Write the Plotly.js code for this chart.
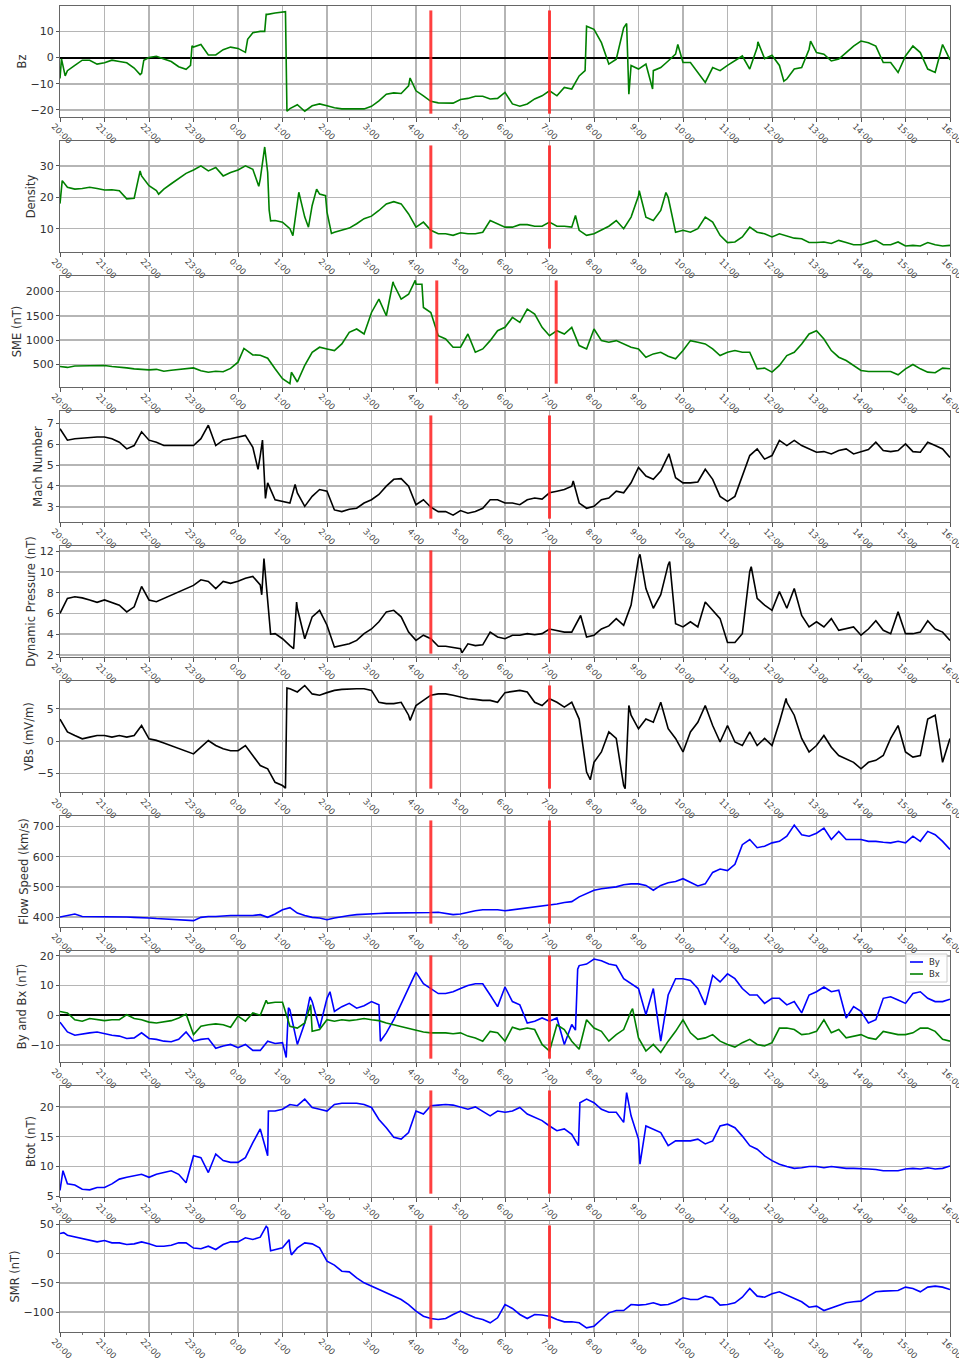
<!DOCTYPE html>
<html><head><meta charset="utf-8">
<script src="https://cdn.plot.ly/plotly-3.0.1.min.js"></script>
<style>html,body{margin:0;padding:0;background:#fff}</style>
</head><body>
<div id="chart" style="width:959px;height:1359px"></div>
<script>
// ---------- DATA (10-minute samples, 20:00 -> 16:00 next day) ----------
const tickLabels = ["20:00","21:00","22:00","23:00","0:00","1:00","2:00","3:00","4:00","5:00","6:00","7:00","8:00","9:00","10:00","11:00","12:00","13:00","14:00","15:00","16:00"];
const startTime = "20:00";
const sampleMinutes = 10;
const eventTimes = ["4:20", "7:00"];
const smeEventTimes = ["4:28", "7:09"];

const bz = [
-8,-5,-3,-1,-1,-2.5,
-2,-1,-1.5,-2,-4,-6,
0,0.5,-0.5,-1.5,-3.5,-4.5,
4,5,1,1,3,4,
3.5,2,9.5,10,16.5,17,
17.5,-19.5,-18,-20.5,-18.4,-17.7,
-18.4,-19.2,-19.6,-19.6,-19.7,-19.6,
-18.6,-16.5,-14,-13.5,-13.7,-10.8,
-12.7,-14.6,-16.7,-17.3,-17.4,-17.4,
-16,-15.6,-14.8,-14.8,-15.8,-15.6,
-13.3,-17.7,-18.6,-17.7,-15.8,-14.6,
-12.7,-14.6,-11.4,-12,-7,12,
10.8,5.7,-2.5,-0.6,11.4,-3,
-4.4,-2.5,-5,-3.8,-1.3,1.3,
-1.9,-1.9,-5.7,-9.5,-3.8,-5,
-3,-1.3,0.6,-4.4,3.8,-0.4,
0.9,-3,-8.2,-4.4,-3.8,3.2,
1.9,1.3,-1.3,-0.6,1.9,4.4,
6.3,5.7,4.4,-1.9,-1.9,-5.7,
0.6,4.4,1.9,-4.4,-5.7,5,
-0.9];
const bzExtra = [["20:02",-0.5],["20:07",-7],["21:48",-6.5],["21:53",-1],["22:56",-3],["22:58",4.5],
["0:13",7],["0:36",10],["0:38",16.5],["1:04",17.5],["1:06",-20.5],["3:52",-7.8],["7:48",-5],["7:50",12],
["8:44",13],["8:47",-14],["9:19",-12],["9:53",5],["11:41",6],["12:16",-9],["12:52",6.3]];

const density = [
18,23.2,22.6,22.8,23.2,22.8,
22.3,22.4,22.1,19.5,19.7,26.8,
23.7,22.1,22.6,24.3,26,27.6,
28.7,30,28.4,29.5,26.8,27.9,
28.7,30,28.9,25.8,27.9,12.6,
12.1,10,17.4,13.7,17.4,21,
15.3,8.9,9.5,10.2,11.6,13.2,
14,15.8,17.9,18.6,17.9,14.7,
10.5,12.1,9.5,8.4,8.4,7.9,
8.7,8.4,8.4,8.9,12.6,11.6,
10.5,10.5,11.3,11.3,10.8,10.8,
12.1,10.8,10.8,10.5,9.5,7.9,
8.4,9.5,10.8,12.6,10,13.7,
20.5,13.7,12.6,15.8,20,8.9,
9.5,8.9,10,13.7,12.1,7.9,
5.6,5.8,7.4,10.5,8.9,8.4,
7.4,8.4,7.7,7,6.8,5.6,
5.6,5.8,5.3,6.3,5.6,4.9,
4.9,5.6,6.3,4.9,4.9,5.8,
4.5,4.7,4.5,5.6,4.9,4.5,
4.7];
const densityExtra = [["20:03",25.3],["21:48",28.4],["22:13",21],["0:28",23.5],["0:36",36],["0:42",16],["0:44",12.5],
["1:14",7.8],["1:22",21.6],["1:35",10.5],["1:46",22.6],["1:58",20.5],["2:06",8.5],["7:35",14.2],["9:01",22.1],["9:37",21.5]];

const sme = [
460,440,470,470,470,470,
480,460,450,430,410,400,
390,400,360,380,400,410,
430,370,340,360,350,420,
548,807,698,690,630,411,
207,105,139,480,752,855,
820,786,923,1161,1230,1127,
1570,1843,1502,2150,1843,1945,
2150,1673,1570,1093,1025,855,
855,1127,752,820,991,1195,
1264,1468,1366,1639,1536,1264,
1093,1195,1127,1264,889,820,
1230,991,957,991,923,855,
820,650,718,752,670,616,
786,991,957,923,820,684,
752,786,752,752,411,425,
343,480,684,752,923,1127,
1195,1025,786,650,582,480,
377,357,357,343,357,289,
411,500,411,343,330,425,
411];
const smeExtra = [["0:08",830],["1:12",340],["3:29",2200],["3:59",2230],["4:08",2150]];

const mach = [
6.75,6.2,6.27,6.3,6.35,6.35,
6.35,6.27,6.1,5.78,5.94,6.6,
6.2,6.1,5.94,5.94,5.94,5.94,
5.94,6.27,6.92,5.94,6.2,6.27,
6.35,6.43,5.86,5.46,4.15,3.34,
3.26,3.18,3.67,3.02,3.5,3.83,
3.75,2.85,2.77,2.88,2.93,3.18,
3.34,3.59,3.99,4.32,4.35,3.99,
3.1,3.34,2.98,2.77,2.77,2.6,
2.82,2.69,2.77,2.93,3.34,3.34,
3.18,3.18,3.1,3.34,3.42,3.37,
3.67,3.75,3.83,3.99,3.18,2.93,
3.02,3.34,3.42,3.75,3.67,4.15,
4.89,4.48,4.32,4.72,5.46,4.4,
4.15,4.15,4.19,4.8,4.32,3.5,
3.26,3.5,4.48,5.46,5.78,5.29,
5.46,6.19,5.94,6.19,5.94,5.78,
5.62,5.65,5.54,5.7,5.78,5.54,
5.65,5.75,6.1,5.7,5.65,5.7,
6.02,5.65,5.62,6.1,5.94,5.78,
5.37];
const machExtra = [["0:27",4.8],["0:33",6.2],["0:37",3.4],["1:17",4.07],["7:32",4.24],["9:41",5.55]];

const dynPressure = [
6,7.45,7.6,7.5,7.3,7.07,
7.3,7.07,6.8,6.15,6.64,8.6,
7.3,7.13,7.45,7.8,8.1,8.43,
8.7,9.24,9.08,8.4,9.08,8.9,
9.1,9.4,9.56,8.75,6.8,4.05,
3.56,2.9,6.5,3.56,5.67,6.3,
4.86,2.75,2.9,3.07,3.4,4.05,
4.5,5.2,6.15,6.3,5.67,4.2,
3.4,3.9,3.56,2.84,2.84,2.75,
2.6,3.07,2.9,2.97,4.2,3.73,
3.56,3.9,3.9,4.05,3.95,4.05,
4.5,4.37,4.2,4.2,5.5,3.73,
3.9,4.5,4.8,5.5,4.86,6.8,
11.35,8.4,6.5,7.8,10.7,5,
4.7,5.2,4.7,7.1,6.3,5.5,
3.2,3.2,4.05,10.05,7.45,6.8,
6.3,8.1,6.5,8.4,5.8,4.7,
5.2,4.7,5.5,4.37,4.5,4.7,
3.9,4.5,5.3,4.37,4.05,6.15,
4.05,4.05,4.2,5.3,4.5,4.2,
3.4];
const dynPressureExtra = [["0:32",7.8],["0:35",11.3],["0:44",4],["1:15",2.6],["1:19",7.1],["5:02",2.2],["7:42",5.8],
["9:02",11.7],["9:42",11],["11:32",10.5]];

const vbs = [
3.4,1.4,0.85,0.34,0.6,0.85,
0.85,0.6,0.85,0.6,0.85,2.4,
0.34,0.1,-0.3,-0.7,-1.1,-1.5,
-2,-0.96,0.08,-0.7,-1.2,-1.5,
-1.5,-0.7,-2.25,-3.8,-4.3,-6.4,
-6.9,8.1,7.6,8.6,7.3,7.1,
7.5,7.85,8,8.1,8.1,8.1,
7.85,6,5.8,5.8,6,4,
5.5,6.3,7.1,7.3,7.3,7.1,
6.8,6.55,6.45,6.3,6.3,6,
7.5,7.7,7.85,7.6,6,5.5,
6.55,6,5.25,6,3.4,-4.8,
-3.3,-1.7,1.4,0.4,-6.9,4,
1.9,3.4,2.9,6,1.9,0.4,
-1.7,1.4,2.9,5.5,2.4,-0.15,
2.4,-0.15,-0.7,1.4,-0.7,0.4,
-0.7,2.9,6,4,0.4,-1.7,
-0.7,0.85,-0.96,-2.25,-2.8,-3.3,
-4.3,-3.3,-3,-2.25,0.4,2.4,
-1.7,-2.5,-2.25,3.4,4,-3.3,
0.4];
const vbsExtra = [["1:04",-7.3],["1:06",8.2],["3:52",3.2],["7:55",-6],["8:42",-7.4],["8:47",5.5],["12:19",6.6]];

const flowSpeed = [
400,405,410,402,402,402,
402,402,402,400,399,399,
397,395,394,391,390,389,
388,399,402,402,404,405,
405,405,405,408,399,410,
424,431,413,405,399,397,
391,397,402,405,408,410,
410,412,413,413,414,413,
413,415,415,416,413,408,
410,416,421,424,424,424,
421,424,427,431,435,438,
440,443,448,451,467,478,
489,494,496,500,507,510,
510,505,489,505,514,518,
527,514,503,510,548,559,
554,575,640,657,630,635,
646,651,668,705,673,668,
678,695,657,684,657,657,
657,651,651,648,646,651,
646,668,651,684,673,651,
624];

const by = [
-2.3,-5.6,-6.7,-6.2,-5.9,-5.6,
-6.2,-6.7,-7,-7.8,-7.6,-5.9,
-7.8,-8.1,-8.7,-8.9,-8.1,-5.6,
-8.7,-8.1,-7.8,-11.1,-10.3,-9.8,
-10.9,-9.8,-11.8,-11.8,-8.7,-9.5,
-9.2,1.8,-9.8,-2.6,4.6,-4.3,
5.7,1.3,2.9,4,2.4,3.2,
4.6,3.5,-5.9,-1.5,4,9.5,
14.5,10.6,9,7.3,7.3,7.9,
9,10,10.6,10.6,6.8,2.9,
9.5,4.6,3.5,-2.6,-2,-0.9,
-2,-0.9,-9.8,-3.1,16.7,17.2,
18.9,18.3,17.2,16.7,12.3,10.6,
9,0.2,9,-8.7,6.8,12.3,
12.3,11.7,9,3.5,13.4,11.2,
13.9,12.3,9,6.8,6.8,4,
5.7,5.7,3.5,4.6,0.8,6.8,
7.9,9.5,7.9,8.4,-0.9,2.9,
1.3,-2.6,-1.5,5.7,6.2,5.1,
4,7.3,7.9,5.7,4.6,4.6,
5.4];
const byExtra = [["1:05",-14.2],["1:08",2.5],["1:37",6.2],["2:04",7.9],["3:12",-8.7],["7:35",-5],["7:38",15.5]];

const bx = [
1.3,0.8,-1.5,-2,-1.1,-1.5,
-1.8,-1.5,-1.5,0.2,-1.1,-1.5,
-2.3,-2.6,-2.3,-1.8,-0.9,0.4,
-6.5,-3.7,-3.2,-2.9,-3.2,-4,
-0.3,-2,0.8,0,4,4.4,
4.4,-3.7,-4.3,-2.6,-5.4,-4.8,
-1.5,-2,-1.5,-1.8,-1.5,-1.1,
-1.5,-1.8,-2.6,-3.2,-3.7,-4.3,
-4.8,-5.6,-5.9,-5.9,-5.9,-6.2,
-5.9,-7,-7.6,-8.7,-5.4,-5.9,
-8.7,-4,-4.8,-4.3,-4.8,-9.8,
-12,-3.2,-4.8,-8.7,-11.4,-1.5,
-4.3,-5.4,-8.7,-6.5,-4.8,1.3,
-7.6,-12,-9.8,-12.5,-8.7,-5.4,
-1.5,-5.9,-8.1,-7.6,-6.5,-8.7,
-9.8,-10.7,-9.2,-8.1,-9.8,-10.3,
-9.2,-4.3,-4.3,-4.8,-6.5,-6.2,
-5.4,-1.5,-5.9,-4.8,-7.6,-7,
-6.5,-7.6,-8.1,-5.4,-5.9,-6.5,
-6.5,-5.9,-4.3,-4.3,-5.4,-8.1,
-8.7];
const bxExtra = [["0:38",5],["1:38",3.5],["8:52",2.2]];

const btot = [
6,7.1,6.9,6.2,6.1,6.5,
6.5,7.1,7.9,8.2,8.5,8.7,
8.2,8.7,9,9.3,8.7,7.3,
11.8,11.5,9,12.1,11,10.7,
10.7,11.5,14,16.3,11.8,19.3,
19.6,20.4,20.2,21.3,19.9,19.6,
19.3,20.4,20.6,20.6,20.6,20.4,
19.9,17.9,16.5,14.9,14.6,15.7,
19.3,18.8,20.2,20.3,20.4,20.3,
19.9,19.6,20,19.3,18.5,19.3,
19.1,19.3,19.9,18.8,18.2,17.7,
16.8,16,16.3,15.4,20.7,21.3,
20.7,19.6,19.1,19.1,17.4,18.5,
14.6,16.8,16.3,15.7,13.5,14.3,
14.3,14.3,14.6,13.8,14.3,16.8,
17.1,16.5,15.1,13.5,12.9,11.8,
11,10.4,10,9.7,9.8,10,
10,9.8,10,9.8,9.7,9.7,
9.7,9.6,9.5,9.3,9.3,9.3,
9.6,9.7,9.6,9.8,9.6,9.7,
10.1];
const btotExtra = [["20:04",9.3],["0:41",19.3],["7:39",13.5],["7:41",20.7],["8:44",22.4],["9:02",10.4]];

const smr = [
34.6,31.7,28.9,26,23.2,20.3,
22.6,18.6,18.6,15.8,16.9,20.3,
16.9,12.9,12.9,14.6,18.6,18.6,
9.7,8.6,12.9,7.2,15.8,20.3,
20.3,27.2,24.3,28.3,44.3,7.2,
10,10,10,18.6,16.9,10,
-12.7,-19.6,-29.9,-31,-41.3,-49.8,
-55.5,-61.2,-67,-72.6,-78.4,-87,
-98.3,-107,-111,-112.6,-111,-104,
-98.3,-104,-109.7,-112.6,-118.3,-109.7,
-87,-93.7,-104,-111,-104,-105,
-107,-112.6,-116.6,-116.6,-118.3,-126.8,
-124,-112.6,-101.2,-97.2,-97.2,-87,
-88,-87,-84,-88,-87,-82.3,
-75.5,-78.4,-78.4,-72.6,-75.5,-88,
-87,-84,-74.4,-59.5,-72.6,-74.4,
-68.6,-65.2,-71,-75.5,-82.3,-91.5,
-89.8,-97.2,-92.6,-88,-84,-82.3,
-81.2,-72.6,-65.2,-64,-64,-63,
-57.2,-59.5,-65.2,-57.2,-55.5,-57.2,
-61.2];
const smrExtra = [["20:05",36],["0:38",47],["0:44",5],["1:09",24],["1:12",-2]];

// ---------- HELPERS ----------
function hoursFromStart(hhmm){
  const [h,m] = hhmm.split(':').map(Number);
  const [h0,m0] = startTime.split(':').map(Number);
  let d = (h*60+m) - (h0*60+m0);
  if (d < 0) d += 1440;
  return d/60;
}
function series(grid, extra){
  const pts = grid.map((v,i)=>[i*sampleMinutes/60, v]);
  (extra||[]).forEach(([t,v])=>pts.push([hoursFromStart(t), v]));
  pts.sort((a,b)=>a[0]-b[0]);
  return {x:pts.map(p=>p[0]), y:pts.map(p=>p[1])};
}
const tickVals = tickLabels.map((_,i)=> i);

// ---------- PANELS ----------
const GREEN = '#008000', BLUE = '#0000ff', BLACK = '#000000';
const panels = [
  {title:'Bz', series:[{name:'Bz', d:series(bz,bzExtra), color:GREEN}], range:[-22.7,19.7], dtick:10, zero:true},
  {title:'Density', series:[{name:'Density', d:series(density,densityExtra), color:GREEN}], range:[2.6,37.9], dtick:10},
  {title:'SME (nT)', series:[{name:'SME', d:series(sme,smeExtra), color:GREEN}], range:[37,2320], dtick:500, events:smeEventTimes},
  {title:'Mach Number', series:[{name:'Mach', d:series(mach,machExtra), color:BLACK}], range:[2.27,7.6], dtick:1},
  {title:'Dynamic Pressure (nT)', series:[{name:'Pdyn', d:series(dynPressure,dynPressureExtra), color:BLACK}], range:[1.8,12.5], dtick:2},
  {title:'VBs (mV/m)', series:[{name:'VBs', d:series(vbs,vbsExtra), color:BLACK}], range:[-7.9,9.3], dtick:5},
  {title:'Flow Speed (km/s)', series:[{name:'V', d:series(flowSpeed), color:BLUE}], range:[367,735], dtick:100},
  {title:'By and Bx (nT)', series:[{name:'By', d:series(by,byExtra), color:BLUE, legend:true},{name:'Bx', d:series(bx,bxExtra), color:GREEN, legend:true}], range:[-15.7,21.6], dtick:10, zero:true},
  {title:'Btot (nT)', series:[{name:'Btot', d:series(btot,btotExtra), color:BLUE}], range:[4.9,23.5], dtick:5},
  {title:'SMR (nT)', series:[{name:'SMR', d:series(smr,smrExtra), color:BLUE}], range:[-134,56], dtick:50}
];

const W = 959, H = 1359, ML = 60, MR = 9, TOP0 = 6, STEP = 135, PH = 111;
const PW = W - ML - MR;
const px2x = px => (px - ML)/PW;
const py2y = py => 1 - py/H;
const traces = [], shapes = [], annotations = [];
const layout = {
  width:W, height:H,
  margin:{l:ML, r:MR, t:0, b:0},
  paper_bgcolor:'#ffffff', plot_bgcolor:'#ffffff',
  font:{family:'DejaVu Sans, sans-serif', color:'#333'},
  showlegend:false,
  shapes: shapes, annotations: annotations
};

panels.forEach((p,i)=>{
  const n = i+1;
  const xa = n===1 ? 'x' : 'x'+n, ya = n===1 ? 'y' : 'y'+n;
  const top = TOP0 + STEP*i, bot = top + PH;
  const dom = [1 - bot/H, 1 - top/H];
  p.series.forEach(s=>{
    traces.push({
      type:'scatter', mode:'lines', x:s.d.x, y:s.d.y, name:s.name,
      xaxis:xa, yaxis:ya,
      line:{color:s.color, width:1.6}
    });
  });
  layout['xaxis'+(n===1?'':n)] = {
    domain:[0,1], anchor:ya, range:[0,20],
    tickmode:'array', tickvals:tickVals, ticktext:tickLabels,
    tickangle:45, tickfont:{size:8.5, color:'#444'},
    ticklabelshift:-6, ticklabelstandoff:-4, ticklabeloverflow:'allow',
    ticks:'outside', ticklen:4, tickcolor:'#555',
    minor:{tickmode:'linear', tick0:0, dtick:0.5, ticks:'outside', ticklen:2, tickcolor:'#777', showgrid:false},
    showgrid:true, gridcolor:'#b5b5b5', gridwidth:1.5,
    showline:true, linecolor:'#666', linewidth:1, mirror:true,
    zeroline:false, fixedrange:true
  };
  layout['yaxis'+(n===1?'':n)] = {
    domain:dom, anchor:xa, range:p.range,
    tickmode:'linear', dtick:p.dtick, tick0:0,
    tickfont:{size:11, color:'#333'},
    ticks:'outside', ticklen:3, tickcolor:'#555',
    showgrid:true, gridcolor:'#b5b5b5', gridwidth:1.5,
    showline:true, linecolor:'#666', linewidth:1, mirror:true,
    zeroline:!!p.zero, zerolinecolor:'#000', zerolinewidth:2,
    title:{text:p.title, font:{size:11.5, color:'#333'}, standoff:1}
  };
  (p.events || eventTimes).forEach(t=>{
    const xv = hoursFromStart(t);
    shapes.push({type:'line', xref:xa, yref:ya+' domain', x0:xv, x1:xv, y0:0.03, y1:0.96,
      line:{color:'rgba(255,30,30,0.85)', width:3}, layer:'above'});
  });

  // compact legend (matplotlib style) for panels with legend series
  const legSeries = p.series.filter(s=>s.legend);
  if (legSeries.length){
    const bx0 = W - MR - 44, bx1 = W - MR - 3, by0 = top + 3, by1 = top + 3 + 12*legSeries.length + 4;
    shapes.push({type:'rect', xref:'paper', yref:'paper', x0:px2x(bx0), x1:px2x(bx1), y0:py2y(by1), y1:py2y(by0),
      fillcolor:'rgba(255,255,255,0.9)', line:{color:'#cccccc', width:1}, layer:'above'});
    legSeries.forEach((s,k)=>{
      const yy = by0 + 8 + 12*k;
      shapes.push({type:'line', xref:'paper', yref:'paper', x0:px2x(bx0+4), x1:px2x(bx0+17), y0:py2y(yy), y1:py2y(yy),
        line:{color:s.color, width:1.6}, layer:'above'});
      annotations.push({xref:'paper', yref:'paper', x:px2x(bx0+21), y:py2y(yy), xanchor:'left', yanchor:'middle',
        text:s.name, showarrow:false, font:{size:8.5, color:'#333'}});
    });
  }
});

Plotly.newPlot('chart', traces, layout, {staticPlot:true, displayModeBar:false});
</script>
</body></html>
